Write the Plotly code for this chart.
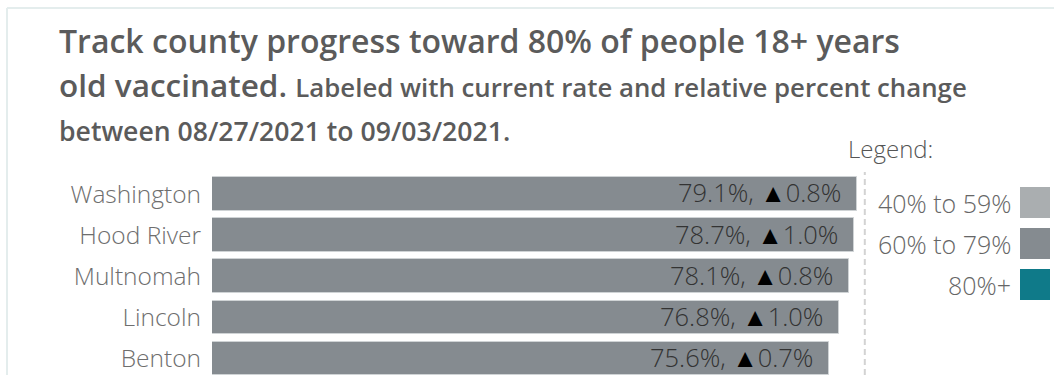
import plotly.graph_objects as go

counties = ["Washington", "Hood River", "Multnomah", "Lincoln", "Benton"]
rates = [79.1, 78.7, 78.1, 76.8, 75.6]
changes = [0.8, 1.0, 0.8, 1.0, 0.7]
target = 80
legend_labels = ["40% to 59%", "60% to 79%", "80%+"]
legend_colors = ["#aaaeb0", "#858b90", "#0f7a89"]

W, H = 1054, 375
BAR_COLOR = "#858b90"
FONT = "Open Sans"

def px(x):
    return x / W

def py(y):
    return 1 - y / H

x0_px, x1_px = 212, 880
xmax = (x1_px - x0_px) / 8.16

fig = go.Figure()
fig.add_trace(go.Bar(
    y=counties, x=rates, orientation="h",
    marker=dict(color=BAR_COLOR, line=dict(color="#cfd3d5", width=1)),
    width=0.82, hoverinfo="skip", showlegend=False,
))

annotations = []
for c, r, ch in zip(counties, rates, changes):
    annotations.append(dict(
        x=r, y=c, xref="x", yref="y", xanchor="right", yanchor="middle",
        xshift=-15, yshift=1.5, showarrow=False, borderpad=0,
        text=f"<span style='color:#333'>{r:.1f}%, </span><span style='color:#000'>▲</span><span style='color:#333'>{ch:.1f}%</span>",
        font=dict(family=FONT, size=25.5, color="#333", weight=300),
    ))

# Title
title_color = "#5b5b5b"
annotations += [
    dict(x=px(57), y=py(56), xref="paper", yref="paper", xanchor="left", yanchor="bottom",
         yshift=-8, showarrow=False,
         text="Track county progress toward 80% of people 18+ years",
         font=dict(family=FONT, size=32, color=title_color, weight=600)),
    dict(x=px(57), y=py(100), xref="paper", yref="paper", xanchor="left", yanchor="bottom",
         yshift=-8, showarrow=False,
         text="old vaccinated. <span style='font-size:25.8px'>Labeled with current rate and relative percent change</span>",
         font=dict(family=FONT, size=31.5, color=title_color, weight=600)),
    dict(x=px(57), y=py(144), xref="paper", yref="paper", xanchor="left", yanchor="bottom",
         yshift=-7, showarrow=False,
         text="between 08/27/2021 to 09/03/2021.",
         font=dict(family=FONT, size=26.6, color=title_color, weight=600)),
    dict(x=px(846), y=py(148), xref="paper", yref="paper", xanchor="left", yanchor="middle",
         showarrow=False, text="Legend:",
         font=dict(family=FONT, size=24, color="#555", weight=300)),
]

shapes = []
# legend items
for i, (lab, col) in enumerate(zip(legend_labels, legend_colors)):
    top = 187 + i * 41
    shapes.append(dict(type="rect", xref="paper", yref="paper",
                       x0=px(1020), x1=px(1050), y0=py(top), y1=py(top + 31),
                       fillcolor=col, line=dict(width=0)))
    annotations.append(dict(x=px(1013), y=py(top + 16), xref="paper", yref="paper",
                            xanchor="right", yanchor="middle", showarrow=False,
                            text=lab, font=dict(family=FONT, size=25, color="#666", weight=300)))

# target reference line
shapes.append(dict(type="line", xref="x", yref="paper", x0=target, x1=target,
                   y0=0, y1=py(172), line=dict(color="#d3d3d3", width=2, dash="6px,4px")))
# frame
shapes.append(dict(type="line", xref="paper", yref="paper", x0=px(7), x1=1,
                   y0=py(8), y1=py(8), line=dict(color="#e4eded", width=2)))
shapes.append(dict(type="line", xref="paper", yref="paper", x0=px(7), x1=px(7),
                   y0=py(8), y1=0, line=dict(color="#e4eded", width=2)))

fig.update_layout(
    width=W, height=H, margin=dict(l=0, r=0, t=0, b=0),
    paper_bgcolor="white", plot_bgcolor="white",
    xaxis=dict(domain=[px(x0_px), px(x1_px)], range=[0, xmax], visible=False, fixedrange=True),
    yaxis=dict(domain=[0, py(173)], range=[4.4, -0.51], type="category",
               showgrid=False, zeroline=False, showline=False, ticks="",
               ticklabelstandoff=10,
               tickfont=dict(family=FONT, size=24.5, color="#6e6e6e", weight=300)),
    annotations=annotations, shapes=shapes, bargap=0,
)

fig.write_html("out.html", config={"displayModeBar": False})
